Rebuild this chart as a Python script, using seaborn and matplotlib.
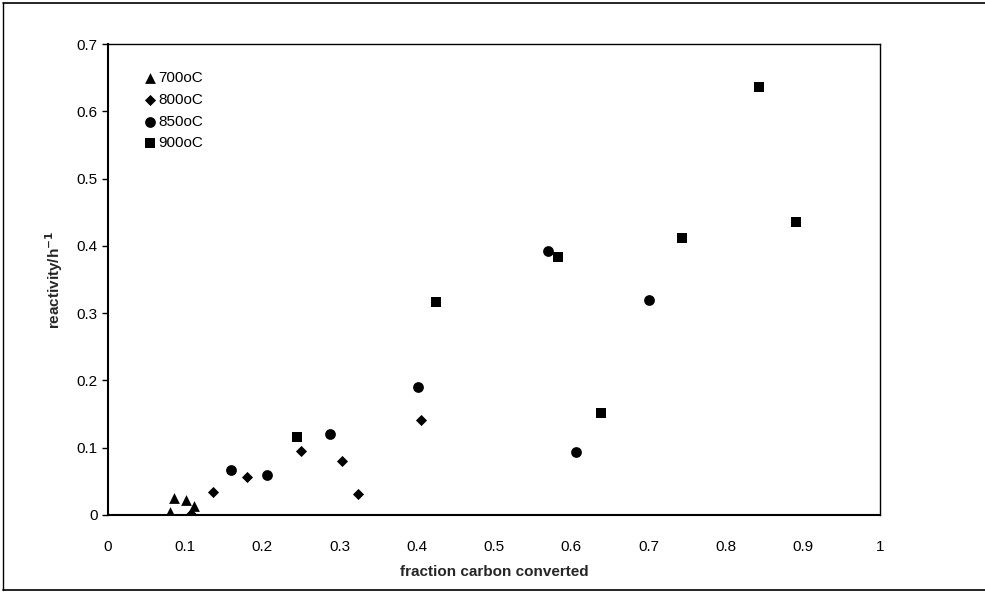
import matplotlib
matplotlib.use("Agg")
import matplotlib.pyplot as plt
import seaborn as sns
import pandas as pd
from matplotlib.lines import Line2D

sns.set_theme(style="white")
plt.rcParams['font.family'] = ['Liberation Sans', 'DejaVu Sans']

x700 = [0.080, 0.085, 0.101, 0.111]
y700 = [0.004, 0.025, 0.022, 0.013]
x800 = [0.107, 0.136, 0.180, 0.250, 0.303, 0.324, 0.405]
y800 = [0.001, 0.034, 0.056, 0.095, 0.080, 0.031, 0.141]
x850 = [0.159, 0.206, 0.288, 0.402, 0.570, 0.606, 0.701]
y850 = [0.067, 0.060, 0.120, 0.190, 0.392, 0.094, 0.319]
x900 = [0.245, 0.425, 0.583, 0.639, 0.744, 0.843, 0.891]
y900 = [0.116, 0.316, 0.383, 0.152, 0.412, 0.636, 0.435]
labels = ["700oC", "800oC", "850oC", "900oC"]

frames = []
for lab, xs, ys in zip(labels, [x700, x800, x850, x900], [y700, y800, y850, y900]):
    frames.append(pd.DataFrame({"x": xs, "y": ys, "series": lab}))
df = pd.concat(frames, ignore_index=True)

fig = plt.figure(figsize=(9.85, 6.06), dpi=100)
ax = fig.add_axes([108/985, 1-515/606, (880-108)/985, (515-44)/606])

markers = {"700oC": "^", "800oC": "D", "850oC": "o", "900oC": "s"}
sizes = {"700oC": 60, "800oC": 32, "850oC": 60, "900oC": 55}
for lab in labels:
    sub = df[df.series == lab]
    sns.scatterplot(data=sub, x="x", y="y", marker=markers[lab], s=sizes[lab],
                    color="black", edgecolor="black", linewidth=0, ax=ax, label=lab)

ax.set_xlim(0, 1)
ax.set_ylim(0, 0.7)
ax.set_xticks([0, 0.1, 0.2, 0.3, 0.4, 0.5, 0.6, 0.7, 0.8, 0.9, 1])
ax.set_xticklabels(["0", "0.1", "0.2", "0.3", "0.4", "0.5", "0.6", "0.7", "0.8", "0.9", "1"])
ax.set_yticks([0, 0.1, 0.2, 0.3, 0.4, 0.5, 0.6, 0.7])
ax.set_yticklabels(["0", "0.1", "0.2", "0.3", "0.4", "0.5", "0.6", "0.7"])
ax.tick_params(axis="both", labelsize=11, colors="black")
ax.tick_params(axis="y", left=True, length=4, width=1, direction="out")
ax.tick_params(axis="x", bottom=False, pad=12)
for sp in ax.spines.values():
    sp.set_color("black")
    sp.set_linewidth(1.0)
ax.spines["left"].set_linewidth(1.5)
ax.spines["bottom"].set_linewidth(1.5)

ax.set_xlabel("fraction carbon converted", fontsize=11, fontweight="bold", labelpad=8)
ax.set_ylabel("reactivity/h$^{\\mathbf{-1}}$", fontsize=11, fontweight="bold", labelpad=8)

leg = ax.legend(loc="upper left", bbox_to_anchor=(0.036, 0.955), frameon=False,
                fontsize=11, handletextpad=0.0, labelspacing=0.5, handlelength=1.1,
                borderaxespad=0)
for t in leg.get_texts():
    t.set_color("black")

# outer chart frame
fig.add_artist(Line2D([3/985, 985/985], [1-3/606, 1-3/606], color="black", lw=1.2, transform=fig.transFigure))
fig.add_artist(Line2D([3/985, 3/985], [1-3/606, 1-590/606], color="black", lw=1.0, transform=fig.transFigure))
fig.add_artist(Line2D([3/985, 985/985], [1-590/606, 1-590/606], color="black", lw=1.2, transform=fig.transFigure))

fig.savefig("out.png", dpi=100, facecolor="white")
